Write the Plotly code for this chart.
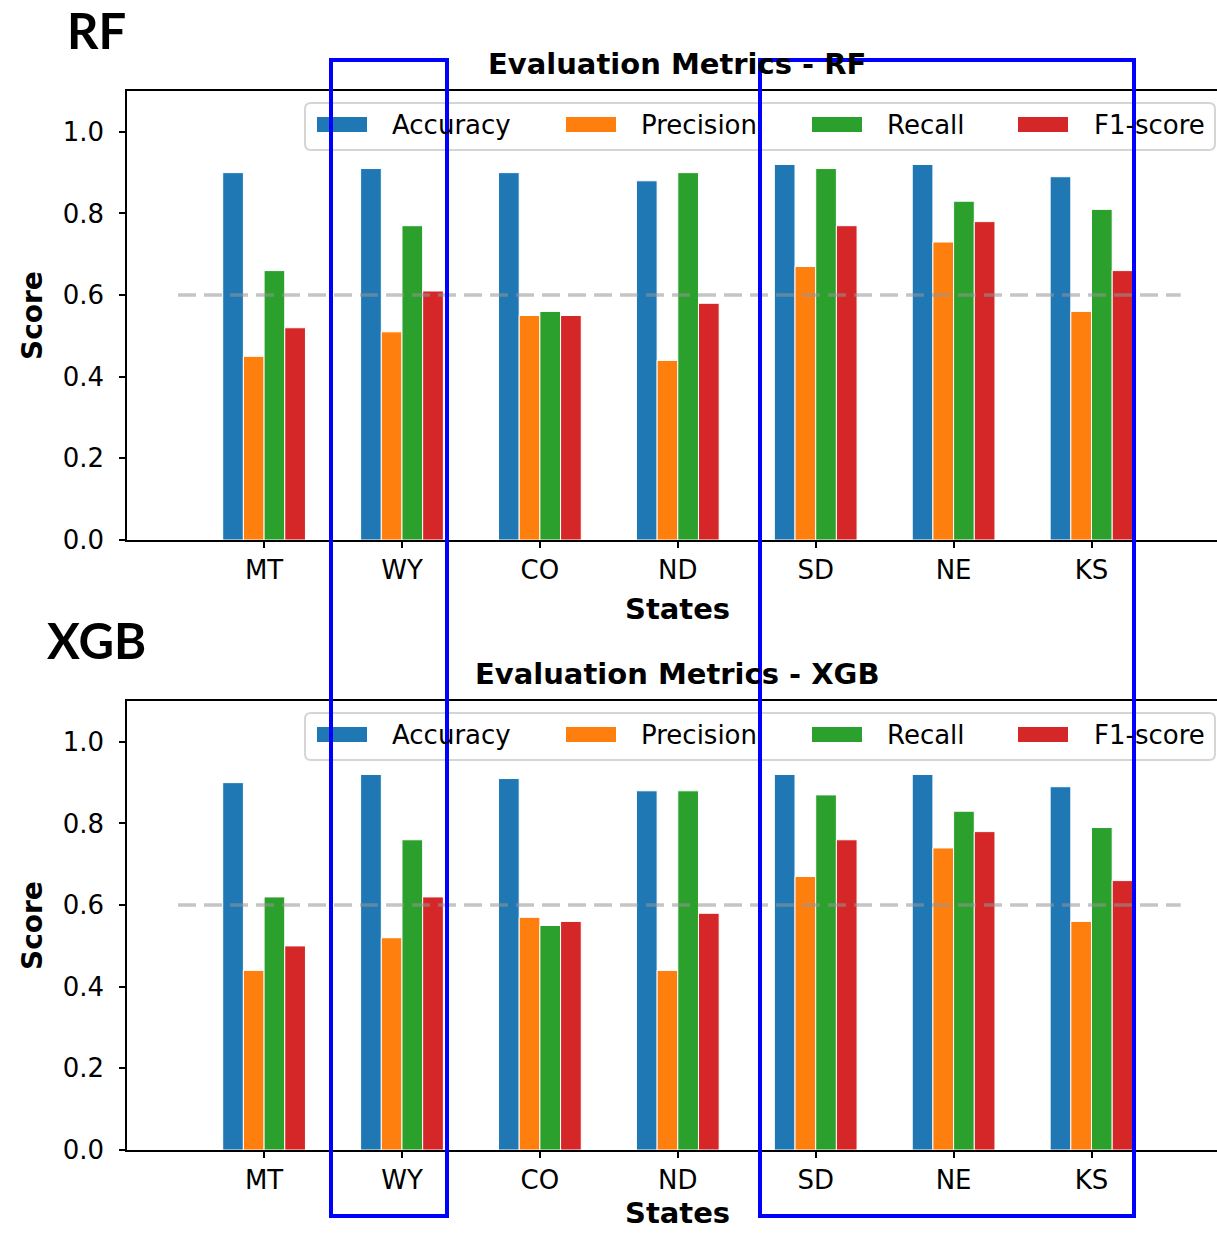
import plotly.graph_objects as go

# ---------------- data ----------------
states = ["MT", "WY", "CO", "ND", "SD", "NE", "KS"]
metrics = ["Accuracy", "Precision", "Recall", "F1-score"]
colors = ["#1f77b4", "#ff7f0e", "#2ca02c", "#d62728"]

rf_accuracy = [0.90, 0.91, 0.90, 0.88, 0.92, 0.92, 0.89]
rf_precision = [0.45, 0.51, 0.55, 0.44, 0.67, 0.73, 0.56]
rf_recall = [0.66, 0.77, 0.56, 0.90, 0.91, 0.83, 0.81]
rf_f1 = [0.52, 0.61, 0.55, 0.58, 0.77, 0.78, 0.66]

xgb_accuracy = [0.90, 0.92, 0.91, 0.88, 0.92, 0.92, 0.89]
xgb_precision = [0.44, 0.52, 0.57, 0.44, 0.67, 0.74, 0.56]
xgb_recall = [0.62, 0.76, 0.55, 0.88, 0.87, 0.83, 0.79]
xgb_f1 = [0.50, 0.62, 0.56, 0.58, 0.76, 0.78, 0.66]

threshold = 0.6
y_ticks = [0.0, 0.2, 0.4, 0.6, 0.8, 1.0]
panel_labels = ["RF", "XGB"]
titles = ["Evaluation Metrics - RF", "Evaluation Metrics - XGB"]

# ---------------- layout geometry (pixels) ----------------
W, H = 1217, 1233
ML, MR, MT_, MB = 127, 0, 91, 83
PW = W - ML - MR
PH = H - MT_ - MB


def px(xp):
    return (xp - ML) / PW


def py(yp):
    return (H - MB - yp) / PH


FONT = "DejaVu Sans"
fig = go.Figure()

panels = [
    ([rf_accuracy, rf_precision, rf_recall, rf_f1], "x", "y"),
    ([xgb_accuracy, xgb_precision, xgb_recall, xgb_f1], "x2", "y2"),
]
for series, xa, ya in panels:
    for name, vals, col in zip(metrics, series, colors):
        fig.add_trace(go.Bar(
            x=states, y=vals, name=name, xaxis=xa, yaxis=ya,
            marker=dict(color=col, line=dict(color="white", width=1)),
            showlegend=False,
        ))

axis_common = dict(
    showline=True, linecolor="black", linewidth=1.5,
    ticks="outside", ticklen=6, tickwidth=1.5, tickcolor="black",
    tickfont=dict(family=FONT, size=26, color="black"),
    showgrid=False, zeroline=False,
)
xrange_ = [-0.994, 6.91]
fig.update_layout(
    width=W, height=H,
    margin=dict(l=ML, r=MR, t=MT_, b=MB),
    paper_bgcolor="white", plot_bgcolor="white",
    barmode="group", bargap=0.4, bargroupgap=0,
    xaxis=dict(domain=[0, 1], anchor="y", type="category", range=xrange_,
               mirror=True, **axis_common),
    yaxis=dict(domain=[py(540), 1], anchor="x", range=[0, 1.1],
               tickvals=y_ticks, tickformat=".1f", ticklabelstandoff=10, **axis_common),
    xaxis2=dict(domain=[0, 1], anchor="y2", type="category", range=xrange_,
                mirror=True, **axis_common),
    yaxis2=dict(domain=[0, py(701)], anchor="x2", range=[0, 1.1],
                tickvals=y_ticks, tickformat=".1f", ticklabelstandoff=10, **axis_common),
    showlegend=False,
)

shapes = []
annotations = []
offsets = [0, 610]
refs = [("x", "y"), ("x2", "y2")]
legend_swatch_x = [317, 566, 812, 1018]
legend_text_x = [390, 639, 885, 1092]


def rounded_rect(x0, x1, y0, y1, r=6):
    # pixel coordinates -> paper path with rounded corners
    rx = r / PW
    ry = r / PH
    X0, X1, Y0, Y1 = px(x0), px(x1), py(y1), py(y0)  # Y0 bottom, Y1 top
    return (f"M {X0+rx},{Y1} L {X1-rx},{Y1} Q {X1},{Y1} {X1},{Y1-ry} "
            f"L {X1},{Y0+ry} Q {X1},{Y0} {X1-rx},{Y0} L {X0+rx},{Y0} "
            f"Q {X0},{Y0} {X0},{Y0+ry} L {X0},{Y1-ry} Q {X0},{Y1} {X0+rx},{Y1} Z")


for k, dy in enumerate(offsets):
    xr, yr = refs[k]
    # threshold dashed line
    shapes.append(dict(type="line", xref=xr, yref=yr, x0=-0.624, x1=6.647,
                       y0=threshold, y1=threshold, layer="above",
                       line=dict(color="rgba(150,150,150,0.55)", width=3.5,
                                 dash="18px,8px")))
    # legend box
    shapes.append(dict(type="path", xref="paper", yref="paper",
                       path=rounded_rect(305, 1215, 103 + dy, 150 + dy),
                       layer="above", fillcolor="rgba(255,255,255,0.8)",
                       line=dict(color="#d5d5d5", width=2)))
    for i, name in enumerate(metrics):
        shapes.append(dict(type="rect", xref="paper", yref="paper",
                           x0=px(legend_swatch_x[i]), x1=px(legend_swatch_x[i] + 50),
                           y0=py(132 + dy), y1=py(117 + dy), layer="above",
                           fillcolor=colors[i], line=dict(width=0)))
        annotations.append(dict(text=name, xref="paper", yref="paper",
                                x=px(legend_text_x[i]), y=py(125 + dy),
                                xanchor="left", yanchor="middle", showarrow=False,
                                font=dict(family=FONT, size=26, color="black")))
    # title
    annotations.append(dict(text="<b>" + titles[k] + "</b>", xref="paper", yref="paper",
                            x=px(677), y=py(64 + dy), xanchor="center", yanchor="middle",
                            showarrow=False, font=dict(family=FONT, size=29, color="black")))
    # x label
    annotations.append(dict(text="<b>States</b>", xref="paper", yref="paper",
                            x=px(678), y=py(609 + dy * 0.99), xanchor="center", yanchor="middle",
                            showarrow=False, font=dict(family=FONT, size=29, color="black")))
    # y label
    annotations.append(dict(text="<b>Score</b>", xref="paper", yref="paper",
                            x=px(32), y=py(316 + dy), xanchor="center", yanchor="middle",
                            textangle=-90, showarrow=False,
                            font=dict(family=FONT, size=28, color="black")))
    # panel label
    annotations.append(dict(text="<b>" + panel_labels[k] + "</b>", xref="paper", yref="paper",
                            x=px(96), y=py(30 + dy), xanchor="center", yanchor="middle",
                            showarrow=False, font=dict(family="Lato", size=49, color="black")))

# blue highlight rectangles
for x0, x1 in [(331, 447), (760, 1134)]:
    shapes.append(dict(type="rect", xref="paper", yref="paper",
                       x0=px(x0), x1=px(x1), y0=py(1216), y1=py(60),
                       layer="above", line=dict(color="#0000ff", width=4)))

fig.update_layout(shapes=shapes, annotations=annotations)
fig.write_html("out.html",
               config={"displayModeBar": False},
               post_script="document.body.style.margin='0px';"
                           "document.body.style.overflow='hidden';")
